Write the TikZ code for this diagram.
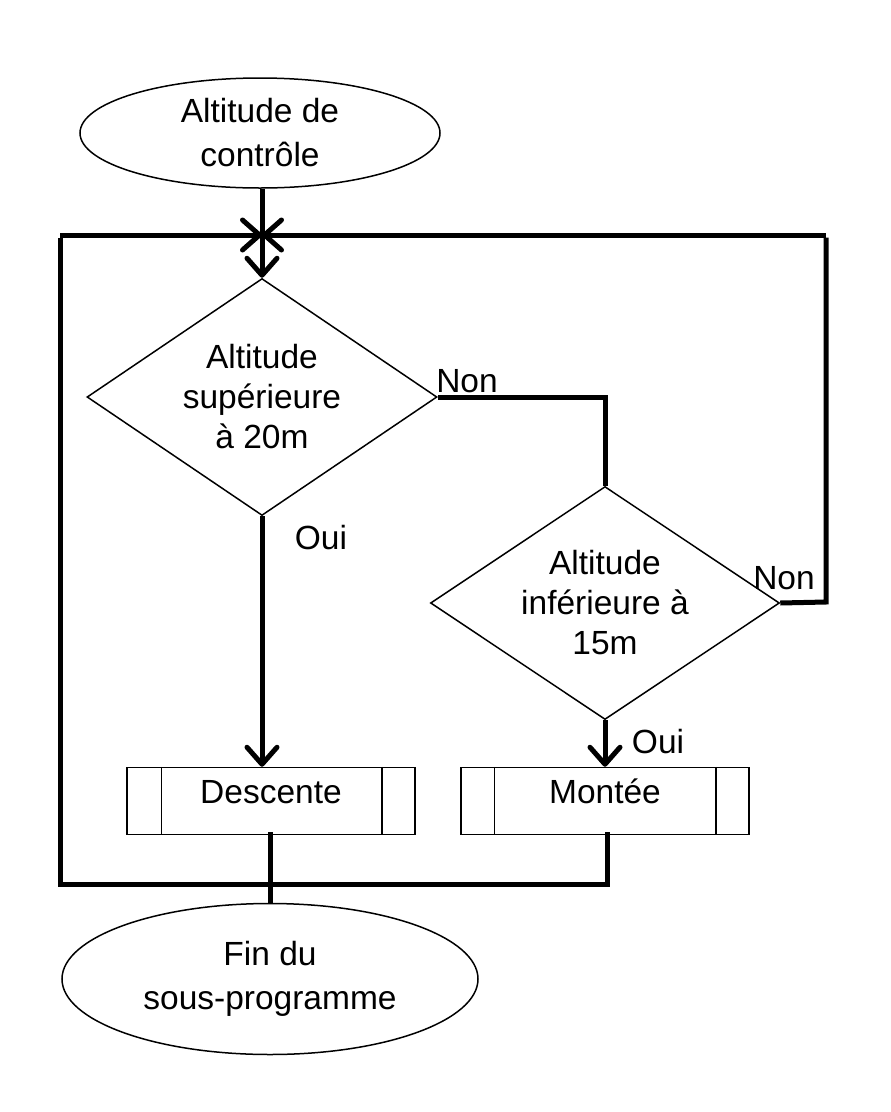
\documentclass[tikz,border=0pt]{standalone}
\usepackage{fontspec}
\setmainfont{Liberation Sans}
\usetikzlibrary{shapes.geometric,arrows.meta}
\begin{document}
\begin{tikzpicture}[x=1pt,y=-1pt,
  every node/.style={font=\fontsize{33.5}{40}\selectfont},
  thinline/.style={line width=1.5pt},
  thickline/.style={line width=5pt},
  arr/.style={thickline,-{Straight Barb[length=17pt,width=30pt,round]}},
  term/.style={ellipse,draw,thinline,inner sep=0pt,align=center,font=\fontsize{33.5}{44}\selectfont},
  dec/.style={diamond,draw,thinline,inner sep=0pt,align=center,aspect=1.49},
  sub/.style={rectangle,draw,thinline,minimum width=288pt,minimum height=67pt,inner sep=0pt},
  lbl/.style={inner sep=0pt}]
\useasboundingbox (0,0) rectangle (891,1112);

% nodes
\node[term,minimum width=360pt,minimum height=110pt] (start) at (260,133) {Altitude de\\contrôle};
\node[dec,minimum width=350pt,minimum height=237pt] (d1) at (262,397) {Altitude\\supérieure\\à 20m};
\node[dec,minimum width=349pt,minimum height=233pt] (d2) at (605,603) {Altitude\\inférieure à\\15m};
\node[sub] (desc) at (271,801) {\raisebox{19pt}{Descente}};
\node[sub] (mont) at (605,801) {\raisebox{19pt}{Montée}};
\node[term,minimum width=416pt,minimum height=151pt] (fin) at (270,979) {Fin du\\sous-programme};

% subprocess side bars
\draw[thinline] ([xshift=35pt]desc.north west) -- ([xshift=35pt]desc.south west);
\draw[thinline] ([xshift=-34pt]desc.north east) -- ([xshift=-34pt]desc.south east);
\draw[thinline] ([xshift=34pt]mont.north west) -- ([xshift=34pt]mont.south west);
\draw[thinline] ([xshift=-34pt]mont.north east) -- ([xshift=-34pt]mont.south east);

% labels
\node[lbl] (non1) at (467,381) {Non};
\node[lbl] (non2) at (784,578) {Non};
\node[lbl] (oui1) at (321,538) {Oui};
\node[lbl] (oui2) at (658,742) {Oui};

% coordinates
\coordinate (J) at (262,235);
\coordinate (TL) at (60,235);
\coordinate (BL) at (60,884);
\coordinate (TR) at (826,235);
\coordinate (MR) at (826,602);
\coordinate (BM) at (607,884);

% connectors
\draw[arr] (start.south -| J) -- (d1.north);
\draw[arr] (TL) -- (J);
\draw[arr] (TR) -- (J);
\draw[thickline] (d1.east) -| (d2.north);
\draw[thickline] (d2.east) -- (MR) -- ([yshift=-2.5pt]TR);
\draw[arr] (d1.south) -- (d1.south |- desc.north);
\draw[arr] (d2.south) -- (mont.north);
\draw[thickline] ([xshift=-1pt,yshift=3pt]desc.south) -- ([xshift=-1pt]desc.south |- fin.north);
\draw[thickline] ([xshift=2pt,yshift=3pt]mont.south) -- (BM) -- (BL) -- ([yshift=-2.5pt]TL);
\end{tikzpicture}
\end{document}
